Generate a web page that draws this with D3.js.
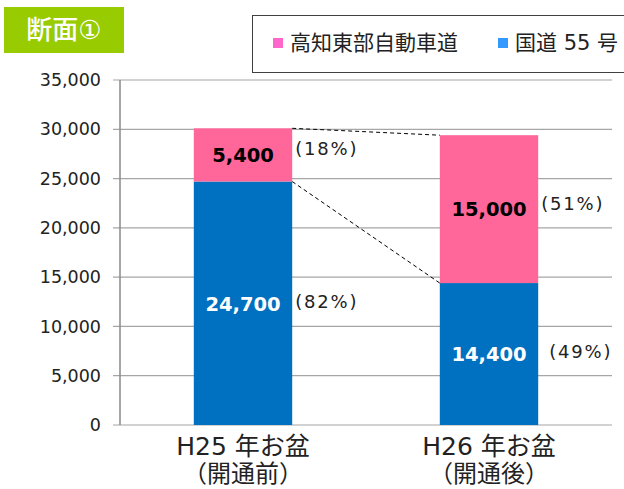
<!DOCTYPE html>
<html>
<head>
<meta charset="utf-8">
<script src="https://cdn.jsdelivr.net/npm/d3@7"></script>
<style>
  body { margin: 0; background: #fff; }
  svg { font-family: "DejaVu Sans", "Noto Sans CJK JP", sans-serif; }
</style>
</head>
<body>
<div id="chart"></div>
<script>
// categories and series values
const categories = ["H25 年お盆", "H26 年お盆"];
const subLabels = ["（開通前）", "（開通後）"];
const seriesNames = ["国道 55 号", "高知東部自動車道"];
const national55 = [24700, 14400];
const expressway = [5400, 15000];
const shareNational = ["(82%)", "(49%)"];
const shareExpress = ["(18%)", "(51%)"];
const yTicks = [0, 5000, 10000, 15000, 20000, 25000, 30000, 35000];

const W = 624, H = 489;
const margin = {top: 80, right: 12, bottom: 64, left: 120};
const width = W - margin.left - margin.right;
const height = H - margin.top - margin.bottom;

const svg = d3.select("#chart").append("svg")
    .attr("width", W).attr("height", H);

const g = svg.append("g")
    .attr("transform", `translate(${margin.left}, ${margin.top})`);

const x = d3.scaleBand().domain(categories).range([0, width])
    .paddingInner(0.6).paddingOuter(0.3);
const y = d3.scaleLinear().domain([0, 35000]).range([height, 0]);

// gridlines
g.selectAll(".grid").data(yTicks).join("line")
    .attr("x1", -7).attr("x2", width)
    .attr("y1", d => y(d)).attr("y2", d => y(d))
    .attr("stroke", "#a6a6a6").attr("stroke-width", 1.2);

// y axis line
g.append("line").attr("x1", 0).attr("x2", 0).attr("y1", 0).attr("y2", height)
    .attr("stroke", "#888").attr("stroke-width", 1.5);

// y tick labels
g.selectAll(".ytl").data(yTicks).join("text")
    .attr("x", -19).attr("y", d => y(d)).attr("dy", "0.35em")
    .attr("text-anchor", "end").attr("font-size", 17.5).attr("fill", "#222")
    .text(d => d3.format(",")(d));

// stacked bars
const blue = "#0070c0", pink = "#ff6699";
g.selectAll(".bar-n").data(categories).join("rect")
    .attr("x", d => x(d)).attr("width", x.bandwidth())
    .attr("y", (d, i) => y(national55[i]))
    .attr("height", (d, i) => height - y(national55[i]))
    .attr("fill", blue);
g.selectAll(".bar-e").data(categories).join("rect")
    .attr("x", d => x(d)).attr("width", x.bandwidth())
    .attr("y", (d, i) => y(national55[i] + expressway[i]))
    .attr("height", (d, i) => y(national55[i]) - y(national55[i] + expressway[i]))
    .attr("fill", pink);

// dashed connectors
const x0r = x(categories[0]) + x.bandwidth(), x1l = x(categories[1]);
g.append("line")
    .attr("x1", x0r).attr("y1", y(national55[0] + expressway[0]))
    .attr("x2", x1l).attr("y2", y(national55[1] + expressway[1]))
    .attr("stroke", "#000").attr("stroke-dasharray", "4,3");
g.append("line")
    .attr("x1", x0r).attr("y1", y(national55[0]))
    .attr("x2", x1l).attr("y2", y(national55[1]))
    .attr("stroke", "#000").attr("stroke-dasharray", "4,3");

// value labels
categories.forEach((c, i) => {
    const cx = x(c) + x.bandwidth() / 2;
    const eMid = (y(national55[i]) + y(national55[i] + expressway[i])) / 2;
    const nMid = i === 0 ? y(12300) : y(7200);
    g.append("text").attr("x", cx).attr("y", eMid).attr("dy", "0.35em")
        .attr("text-anchor", "middle").attr("font-size", 19.5).attr("font-weight", "bold")
        .attr("fill", "#000").text(d3.format(",")(expressway[i]));
    g.append("text").attr("x", cx).attr("y", nMid).attr("dy", "0.35em")
        .attr("text-anchor", "middle").attr("font-size", 19.5).attr("font-weight", "bold")
        .attr("fill", "#fff").text(d3.format(",")(national55[i]));
    const px = x(c) + x.bandwidth() + 3;
    g.append("text").attr("x", px).attr("y", eMid + (i === 0 ? -6 : -5)).attr("dy", "0.35em")
        .attr("font-size", 18).attr("letter-spacing", 1.8).attr("fill", "#222")
        .text(shareExpress[i]);
    g.append("text").attr("x", px + (i === 0 ? 0 : 8)).attr("y", nMid - 2).attr("dy", "0.35em")
        .attr("font-size", 18).attr("letter-spacing", 1.8).attr("fill", "#222")
        .text(shareNational[i]);
});

// x labels
categories.forEach((c, i) => {
    const cx = margin.left + x(c) + x.bandwidth() / 2;
    svg.append("text").attr("x", cx).attr("y", 455)
        .attr("text-anchor", "middle").attr("font-size", 25).attr("fill", "#222")
        .text(c);
    svg.append("text").attr("x", cx).attr("y", 482)
        .attr("text-anchor", "middle").attr("font-size", 24).attr("fill", "#222")
        .text(subLabels[i]);
});

// title badge
svg.append("rect").attr("x", 4).attr("y", 7).attr("width", 120).attr("height", 46)
    .attr("fill", "#99cc00");
svg.append("text").attr("x", 64).attr("y", 30).attr("dy", "0.35em")
    .attr("text-anchor", "middle").attr("font-size", 26).attr("font-weight", 500)
    .attr("fill", "#fff").text("断面①");

// legend
svg.append("rect").attr("x", 252.5).attr("y", 15.5).attr("width", 380).attr("height", 57)
    .attr("fill", "#fff").attr("stroke", "#404040").attr("stroke-width", 1);
const legendItems = [
    {name: seriesNames[1], color: "#ff66cc", x: 273},
    {name: seriesNames[0], color: "#3399ff", x: 498}
];
legendItems.forEach(d => {
    svg.append("rect").attr("x", d.x).attr("y", 38).attr("width", 10).attr("height", 10)
        .attr("fill", d.color);
    svg.append("text").attr("x", d.x + 17).attr("y", 43).attr("dy", "0.35em")
        .attr("font-size", 21).attr("fill", "#222").text(d.name);
});
</script>
</body>
</html>
